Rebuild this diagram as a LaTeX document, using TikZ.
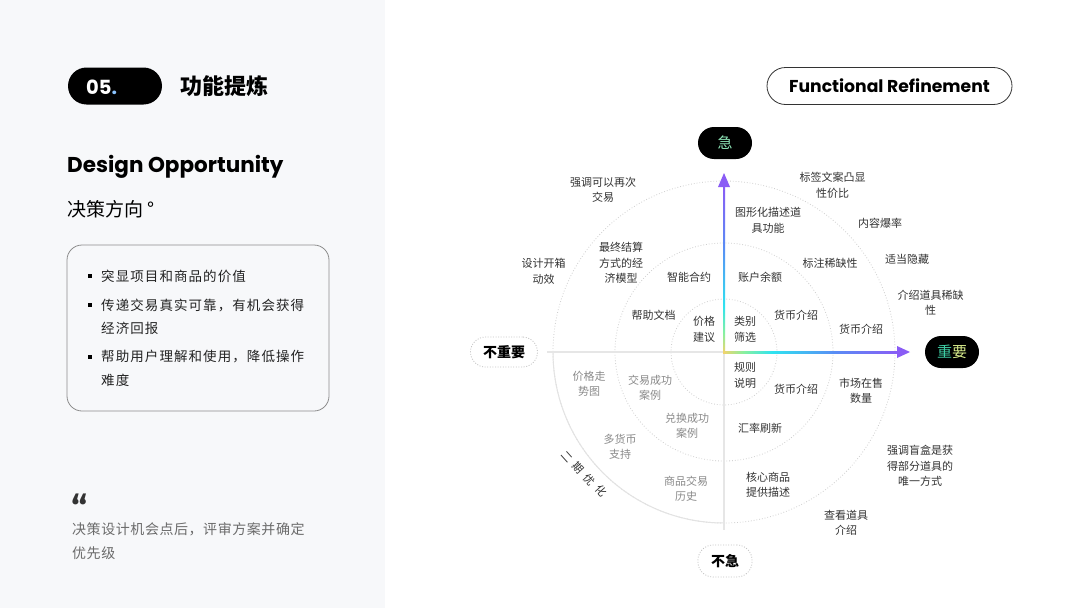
\documentclass[tikz,border=0pt]{standalone}
\usepackage{fontspec}
\setmainfont{Noto Sans CJK SC}
\newfontfamily\pop{Poppins}
\newfontfamily\fira{Fira Sans}
\definecolor{panel}{HTML}{F7F8FA}
\definecolor{lbk}{HTML}{333333}
\definecolor{lgr}{HTML}{8A8A8A}
\definecolor{ringc}{HTML}{CFCFCF}
\definecolor{solidring}{HTML}{E3E3E3}
\definecolor{axgray}{HTML}{E6E6E6}
\definecolor{pillc}{HTML}{C4C4C4}
\definecolor{boxt}{HTML}{222222}
\definecolor{boxb}{HTML}{8C8C8C}
\definecolor{quotet}{HTML}{6B6B6B}
\definecolor{dotblue}{HTML}{8CC4FF}
\definecolor{ay}{HTML}{F2D36B}
\definecolor{ag}{HTML}{86F0A0}
\definecolor{ac}{HTML}{2FE3F0}
\definecolor{ab}{HTML}{5A8BF5}
\definecolor{ap}{HTML}{8A5CF5}
\definecolor{mint}{HTML}{8FE6B8}
\definecolor{teal2}{HTML}{3FCFA6}
\definecolor{lemon}{HTML}{D8EC8C}
\pgfdeclarehorizontalshading{hgrad}{100bp}{color(0bp)=(ay); color(25bp)=(ay); color(31bp)=(ag); color(39bp)=(ac); color(57bp)=(ab); color(75bp)=(ap); color(100bp)=(ap)}
\pgfdeclareverticalshading{vgrad}{100bp}{color(0bp)=(ay); color(25bp)=(ay); color(31bp)=(ag); color(39bp)=(ac); color(57bp)=(ab); color(75bp)=(ap); color(100bp)=(ap)}
\begin{document}
\begin{tikzpicture}[x=1pt,y=-1pt,
  lbl/.style={font=\fontsize{11}{15.5}\selectfont, align=center, text=lbk, inner sep=0pt},
  glbl/.style={lbl, text=lgr},
  rotch/.style={lbl, rotate=-48},
  ring/.style={draw=ringc, line width=0.8pt, dash pattern=on 0.8pt off 2pt},
  blackpill/.style={fill=black, rounded corners=16pt, minimum width=54pt, minimum height=32pt, inner sep=0pt, font=\fontsize{15}{15}\selectfont},
  dotpill/.style={draw=pillc, line width=0.8pt, dash pattern=on 1pt off 1.6pt, fill=white, rounded corners=15pt, minimum height=30pt, inner sep=0pt, font=\fontsize{14}{14}\selectfont\bfseries, text=black},
  boxline/.style={anchor=west, inner sep=0pt, font=\fontsize{13.5}{16}\selectfont\addfontfeatures{LetterSpace=8}, text=boxt},
  bul/.style={fill=black, minimum size=4pt, inner sep=0pt},
  quoteline/.style={anchor=west, inner sep=0pt, font=\fontsize{14}{16}\selectfont\addfontfeatures{LetterSpace=4}, text=quotet},
]
\useasboundingbox (0,0) rectangle (1080,608);
\fill[white] (0,0) rectangle (1080,608);
\fill[panel] (0,0) rectangle (385,608);

% ---------- left panel ----------
\node[fill=black, rounded corners=18.5pt, minimum width=94pt, minimum height=37pt, inner sep=0pt] (numpill) at (115,86) {};
\node[anchor=west, inner sep=0pt, font=\pop\bfseries\fontsize{19.5}{19.5}\selectfont] (num) at (86,87) {\textcolor{white}{05}\textcolor{dotblue}{.}};
\node[anchor=west, inner sep=0pt, font=\bfseries\fontsize{22}{22}\selectfont, text=black] (title) at (180,86) {功能提炼};
\node[anchor=west, inner sep=0pt, font=\pop\bfseries\fontsize{21.5}{21.5}\selectfont, text=black] (design) at (67,167) {Design Opportunity};
\node[anchor=west, inner sep=0pt, font=\fontsize{19}{19}\selectfont, text=black] (dir) at (67,209) {决策方向\hspace{4pt}°};

\draw[boxb, line width=0.8pt, rounded corners=15pt] (67,245) rectangle (329,411);
\node[bul] (b1) at (90,276) {};
\node[bul] (b2) at (90,305) {};
\node[bul] (b3) at (90,357) {};
\node[boxline] (t1) at (101,276) {突显项目和商品的价值};
\node[boxline] (t2) at (101,305) {传递交易真实可靠，有机会获得};
\node[boxline] (t2b) at (101,328) {经济回报};
\node[boxline] (t3) at (101,357) {帮助用户理解和使用，降低操作};
\node[boxline] (t3b) at (101,380) {难度};

\node[anchor=base west, inner sep=0pt, font=\fira\bfseries\fontsize{36}{36}\selectfont, text=lbk] (qm) at (71,521) {“};
\node[quoteline] (q1) at (72,529) {决策设计机会点后，评审方案并确定};
\node[quoteline] (q2) at (72,553) {优先级};

% ---------- right header ----------
\node[draw=lbk, line width=0.8pt, fill=white, rounded corners=18.5pt, minimum width=245pt, minimum height=37pt, inner sep=0pt, font=\pop\bfseries\fontsize{17.2}{17.2}\selectfont, text=black] (fr) at (889.5,86) {Functional Refinement};

% ---------- chart ----------
\coordinate (O) at (724,352);
\draw[ring] (O) circle (53);
\draw[ring] (O) circle (109);
\draw[ring] (O) circle (171);
\begin{scope}
\clip (540,352) rectangle (724,540);
\draw[solidring, line width=1pt] (O) circle (171);
\end{scope}

\coordinate (Lend) at (547,352);
\coordinate (Bend) at (724,530);
\draw[axgray, line width=1.6pt] (Lend) -- (O) -- (Bend);

\shade[shading=vgrad] (723,186) rectangle (725,353);
\shade[shading=hgrad] (723,351) rectangle (899,353);
\fill[ap] (724,173) -- (718,187) -- (730,187) -- cycle;
\fill[ap] (910,352) -- (897,346) -- (897,358) -- cycle;

% pills
\node[blackpill, text=mint] (ji) at (725,143) {急};
\node[blackpill] (zy) at (952,352) {\textcolor{teal2}{重}\textcolor{lemon}{要}};
\node[dotpill, minimum width=67pt] (bzy) at (504,352) {不重要};
\node[dotpill, minimum width=54pt, minimum height=32pt] (bj) at (725,561) {不急};

% labels
\node[lbl] (l1) at (603,190) {强调可以再次\\交易};
\node[lbl] (l2) at (832.5,185.5) {标签文案凸显\\性价比};
\node[lbl] (l3) at (768,220.5) {图形化描述道\\具功能};
\node[lbl] (l4) at (880,223) {内容爆率};
\node[lbl] (l5) at (621,263) {最终结算\\方式的经\\济模型};
\node[lbl] (l6) at (543.5,271.5) {设计开箱\\动效};
\node[lbl] (l7) at (689,277) {智能合约};
\node[lbl] (l8) at (760,277) {账户余额};
\node[lbl] (l9) at (830,263) {标注稀缺性};
\node[lbl] (l10) at (907,259) {适当隐藏};
\node[lbl] (l11) at (930.5,303) {介绍道具稀缺\\性};
\node[lbl] (l12) at (653.5,315) {帮助文档};
\node[lbl] (l13) at (704,329.5) {价格\\建议};
\node[lbl] (l14) at (745,329.5) {类别\\筛选};
\node[lbl] (l15) at (796,315) {货币介绍};
\node[lbl] (l16) at (861,329) {货币介绍};
\node[lbl] (l17) at (745,375.5) {规则\\说明};
\node[lbl] (l18) at (796,389) {货币介绍};
\node[lbl] (l19) at (861,391) {市场在售\\数量};
\node[lbl] (l20) at (760,428) {汇率刷新};
\node[lbl] (l21) at (920,466) {强调盲盒是获\\得部分道具的\\唯一方式};
\node[lbl] (l22) at (768,485) {核心商品\\提供描述};
\node[lbl] (l23) at (846,523) {查看道具\\介绍};
\node[glbl] (g1) at (589,384) {价格走\\势图};
\node[glbl] (g2) at (650,388) {交易成功\\案例};
\node[glbl] (g3) at (687,426) {兑换成功\\案例};
\node[glbl] (g4) at (620,447) {多货币\\支持};
\node[glbl] (g5) at (686,489) {商品交易\\历史};
\node[rotch] (p1) at (567,457) {二};
\node[rotch] (p2) at (578,468) {期};
\node[rotch] (p3) at (589.5,479.5) {优};
\node[rotch] (p4) at (601,491) {化};
\end{tikzpicture}
\end{document}
